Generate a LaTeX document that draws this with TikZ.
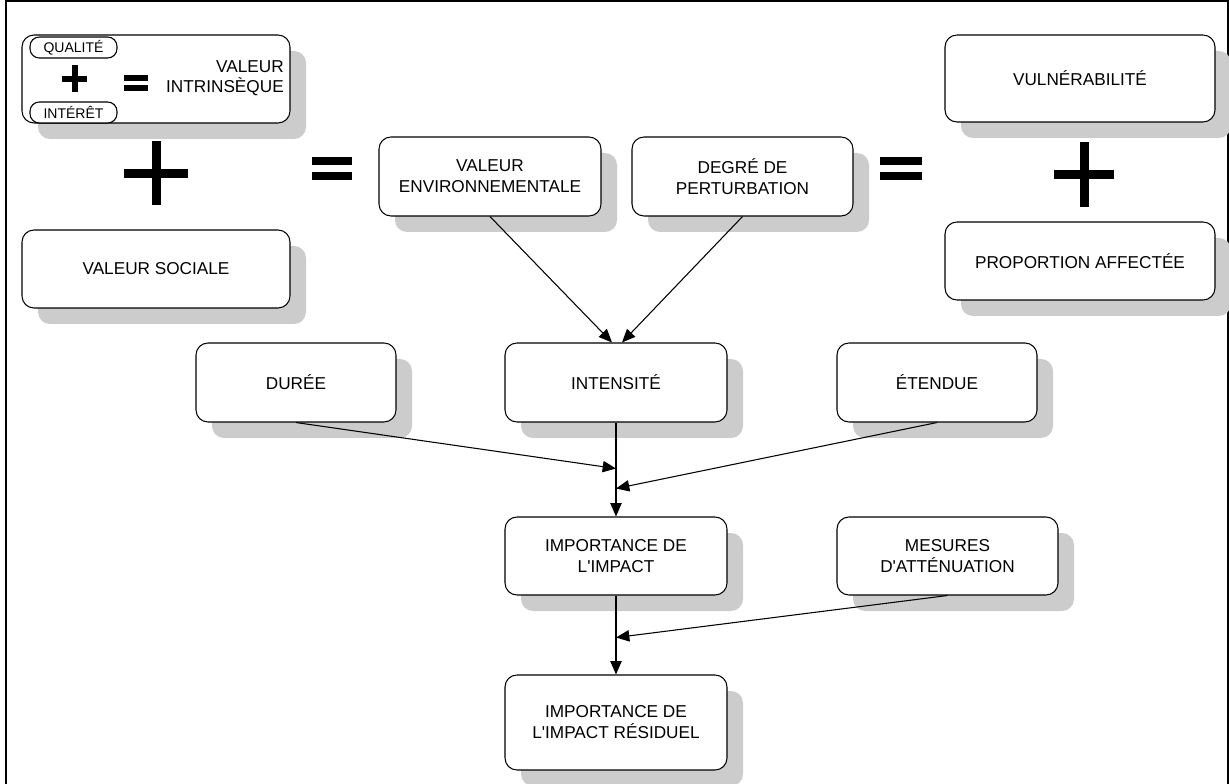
\documentclass[tikz,border=0pt]{standalone}
\usepackage{fontspec}
\setmainfont{Liberation Sans}
\usetikzlibrary{shadows,calc,arrows.meta}
\definecolor{shadowgray}{RGB}{204,204,204}
\begin{document}
\begin{tikzpicture}[x=0.75pt,y=-0.75pt,
  box/.style={draw=black,line width=0.8pt,fill=white,rounded corners=9pt,align=center,
    font=\fontsize{12.9}{15.75}\selectfont,inner sep=0pt,
    drop shadow={shadow xshift=12pt,shadow yshift=-12pt,fill=shadowgray,opacity=1}},
  pill/.style={draw=black,line width=0.8pt,fill=white,rounded corners=7pt,align=center,
    font=\fontsize{10.5}{12}\selectfont,inner sep=0pt,minimum width=65.25pt,minimum height=15.75pt},
  conn/.style={line width=0.8pt,-{Triangle[length=10pt,width=8.5pt]}},
  sym/.style={fill=black}]
\clip (0,0) rectangle (1229,784);
\fill[white] (0,0) rectangle (1229,784);
\draw[line width=1.5pt] (6,1.5) rectangle (1228,800);

% top-left composite box
\node[box,minimum width=201pt,minimum height=66pt] (vi) at (156,79) {};
\node[pill] (qual) at (73.5,47.5) {QUALITÉ};
\node[pill] (inter) at (73.5,112.5) {INTÉRÊT};
\fill[sym] (62,76) rectangle (87,82);
\fill[sym] (71.5,65) rectangle (77.5,92);
\fill[sym] (124,75) rectangle (148,81);
\fill[sym] (124,85) rectangle (148,91);
\node[anchor=east,align=right,font=\fontsize{12.9}{15}\selectfont,inner sep=0pt] (vitxt) at (284,78.5) {VALEUR\\INTRINSÈQUE};

% big symbols
\fill[sym] (124,169) rectangle (188,178);
\fill[sym] (151.5,141) rectangle (160.5,205);
\fill[sym] (312,157) rectangle (352,165);
\fill[sym] (312,172) rectangle (352,180);
\fill[sym] (880,157) rectangle (922,165);
\fill[sym] (880,172) rectangle (922,180);
\fill[sym] (1054,170) rectangle (1114,179);
\fill[sym] (1080,142) rectangle (1089,207);

% boxes
\node[box,minimum width=201pt,minimum height=58.5pt] (vs) at (156,269) {VALEUR SOCIALE};
\node[box,minimum width=166.5pt,minimum height=59.25pt] (ve) at (490,176.5) {VALEUR\\ENVIRONNEMENTALE};
\node[box,minimum width=165.75pt,minimum height=59.25pt] (dp) at (742.5,176.5) {DEGRÉ DE\\PERTURBATION};
\node[box,minimum width=202.5pt,minimum height=65.25pt] (vul) at (1080,78.5) {VULNÉRABILITÉ};
\node[box,minimum width=202.5pt,minimum height=58.5pt] (prop) at (1080,261) {PROPORTION AFFECTÉE};
\node[box,minimum width=150pt,minimum height=59.25pt] (dur) at (296,382.5) {DURÉE};
\node[box,minimum width=166.5pt,minimum height=59.25pt] (int) at (616,382.5) {INTENSITÉ};
\node[box,minimum width=150pt,minimum height=59.25pt] (ete) at (937,382.5) {ÉTENDUE};
\node[box,minimum width=166.5pt,minimum height=58.5pt] (imp) at (616,556) {IMPORTANCE DE\\L\textquotesingle IMPACT};
\node[box,minimum width=165.75pt,minimum height=58.5pt] (mes) at (947.5,556) {MESURES\\D\textquotesingle ATTÉNUATION};
\node[box,minimum width=166.5pt,minimum height=71.25pt] (res) at (616,722.5) {IMPORTANCE DE\\L\textquotesingle IMPACT RÉSIDUEL};

% junction points on the vertical line
\coordinate (jd) at ($(int.south)+(0,46)$);
\coordinate (je) at ($(int.south)+(0,66)$);
\coordinate (jm) at ($(imp.south)+(0,42)$);

% connectors
\draw[conn] (ve.south) -- ($(int.north)+(-4,0)$);
\draw[conn] (dp.south) -- ($(int.north)+(6,0)$);
\draw[conn] (int.south) -- (imp.north);
\draw[conn] (dur.south) -- (jd);
\draw[conn] (ete.south) -- (je);
\draw[conn] (imp.south) -- (res.north);
\draw[conn] (mes.south) -- (jm);
\end{tikzpicture}
\end{document}
